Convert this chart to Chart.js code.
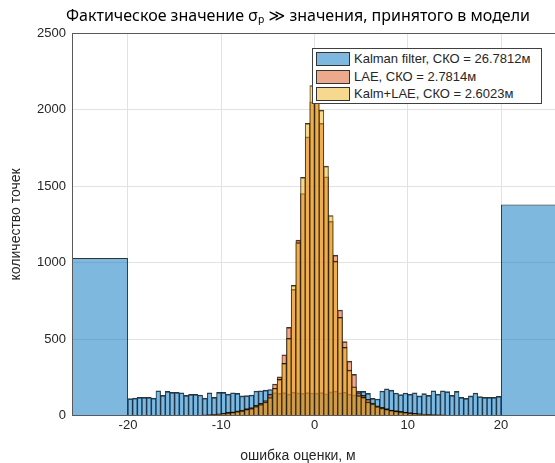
<!DOCTYPE html>
<html>
<head>
<meta charset="utf-8">
<script src="https://cdn.jsdelivr.net/npm/chart.js@4.4.1/dist/chart.umd.min.js"></script>
<style>
  html, body { margin: 0; padding: 0; background: #fff; overflow: hidden; }
  #wrap { position: relative; width: 555px; height: 463px; overflow: hidden; }
  #chart { position: absolute; left: 0; top: 0; }
  #legend {
    position: absolute; left: 312px; top: 48px; width: 230px; height: 56px;
    box-sizing: border-box; border: 1px solid #404040; background: #fff;
    font: 13px 'Liberation Sans', Arial, sans-serif; color: #262626;
  }
  .item { position: absolute; left: 3px; height: 14px; line-height: 14px; white-space: nowrap; }
  .swatch {
    display: inline-block; width: 34px; height: 14px; box-sizing: border-box;
    border: 1px solid #333; vertical-align: top; margin-right: 4px;
  }
</style>
</head>
<body>
<div id="wrap">
  <canvas id="chart" width="596" height="463"></canvas>
  <div id="legend"></div>
</div>
<script>

// 0.5 m bins from -20 to 20; the Kalman outliers fall into two wide bins
var binStart = -20;
var binWidth = 0.5;
var tailWidth = 6;
var tailCenters = [-23, 23];

var kalmanCounts = [
  110, 114, 119, 119, 119, 114, 162, 132, 158, 151, 151, 149, 132, 138, 138, 134, 114, 149, 119, 151,
  151, 140, 149, 145, 128, 130, 134, 160, 162, 166, 170, 150, 145, 150, 140, 152, 148, 145, 150, 147,
  146, 150, 142, 155, 160, 148, 152, 140, 135, 160, 158, 145, 112, 108, 160, 175, 166, 147, 136, 147,
  140, 149, 128, 143, 132, 162, 140, 162, 156, 132, 158, 119, 112, 128, 147, 123, 119, 119, 119, 125
];
var kalmanTails = [1030, 1380];

var laeCounts = [
  0, 0, 0, 0, 0, 0, 0, 0, 0, 0, 0, 0, 0, 1, 2, 3, 4, 6, 8, 11,
  16, 20, 24, 30, 35, 45, 52, 66, 80, 98, 140, 206, 253, 397, 576, 825, 1147, 1452, 1822, 2051,
  2090, 1910, 1561, 1269, 1049, 690, 483, 356, 269, 150, 132, 106, 82, 64, 53, 45, 36, 32, 27, 23,
  19, 15, 12, 10, 8, 6, 5, 4, 3, 2, 2, 1, 1, 0, 0, 0, 0, 0, 0, 0
];

var kalmLaeCounts = [
  0, 0, 0, 0, 0, 0, 0, 0, 0, 0, 0, 0, 0, 0, 1, 2, 3, 4, 6, 9,
  13, 17, 21, 26, 31, 40, 46, 59, 72, 88, 118, 178, 236, 341, 504, 851, 1130, 1557, 1910, 2158,
  2190, 1997, 1631, 1308, 1010, 642, 446, 297, 188, 130, 119, 88, 76, 58, 48, 40, 33, 28, 24, 20,
  16, 13, 10, 8, 6, 5, 4, 3, 2, 2, 1, 1, 0, 0, 0, 0, 0, 0, 0, 0
];

var seriesLabels = ['Kalman filter, СКО = 26.7812м', 'LAE, СКО = 2.7814м', 'Kalm+LAE, СКО = 2.6023м'];
var seriesColors = ['rgba(0,114,189,0.5)', 'rgba(217,83,25,0.5)', 'rgba(237,177,32,0.5)'];

var titleText = 'Фактическое значение σₚ ≫ значения, принятого в модели';
var xTitle = 'ошибка оценки, м';
var yTitle = 'количество точек';

var edgeColor = 'rgba(0,0,0,0.8)';
var boxColor = '#5a5a5a';
var gridColor = '#e2e2e2';
var textColor = '#262626';

function toPoints(counts) {
  return counts.map(function (c, i) {
    return { x: binStart + binWidth * (i + 0.5), y: c };
  });
}

Chart.defaults.font.family = "'Liberation Sans', Arial, sans-serif";
Chart.defaults.color = textColor;

var datasets = [
  {
    label: seriesLabels[0], data: toPoints(kalmanCounts), order: 3,
    backgroundColor: seriesColors[0], borderColor: edgeColor,
    borderWidth: { top: 1, left: 0.5, right: 0.5, bottom: 0 }
  },
  {
    label: seriesLabels[0], data: tailCenters.map(function (x, i) { return { x: x, y: kalmanTails[i] }; }),
    order: 3, barPercentage: tailWidth / binWidth,
    backgroundColor: seriesColors[0], borderColor: edgeColor, borderWidth: 1
  },
  {
    label: seriesLabels[1], data: toPoints(laeCounts), order: 2,
    backgroundColor: seriesColors[1], borderColor: edgeColor,
    borderWidth: { top: 1, left: 0.5, right: 0.5, bottom: 0 }
  },
  {
    label: seriesLabels[2], data: toPoints(kalmLaeCounts), order: 1,
    backgroundColor: seriesColors[2], borderColor: edgeColor,
    borderWidth: { top: 1, left: 0.5, right: 0.5, bottom: 0 }
  }
];

var chart = new Chart(document.getElementById('chart'), {
  type: 'bar',
  data: { datasets: datasets },
  options: {
    responsive: false,
    animation: false,
    datasets: { bar: { grouped: false, barPercentage: 1, categoryPercentage: 1 } },
    plugins: {
      legend: { display: false },
      tooltip: { enabled: false },
      title: {
        display: true, text: titleText, color: '#000',
        font: { family: "'Noto Sans', 'DejaVu Sans', sans-serif", size: 16, weight: 'normal' },
        padding: { top: 7, bottom: 7 }
      },
      subtitle: {
        display: true, position: 'bottom', text: xTitle, color: textColor,
        font: { size: 14 }, padding: { top: 0, bottom: -2 }
      }
    },
    scales: {
      x: {
        type: 'linear', min: -26, max: 26, offset: false,
        grid: { color: gridColor, offset: false, drawTicks: false },
        border: { color: boxColor, z: 1 },
        ticks: { stepSize: 10, includeBounds: false, padding: 2, font: { size: 13 } },
        afterFit: function (s) { s.height = 32.7; }
      },
      x2: {
        type: 'linear', position: 'top', min: -26, max: 26, offset: false,
        grid: { display: false, drawTicks: false },
        ticks: { display: false },
        border: { color: boxColor, z: 1 },
        afterFit: function (s) { s.height = 0; }
      },
      y: {
        min: 0, max: 2500,
        grid: { color: gridColor, drawTicks: false },
        border: { color: boxColor, z: 1 },
        ticks: { stepSize: 500, padding: 6, font: { size: 13 }, format: { useGrouping: false } },
        title: { display: true, text: yTitle, font: { size: 14 }, padding: { top: 8, bottom: 0 } },
        afterFit: function (s) { s.width = 72; }
      },
      y2: {
        position: 'right', min: 0, max: 2500,
        grid: { display: false, drawTicks: false },
        ticks: { display: false },
        border: { color: boxColor, z: 1 },
        afterFit: function (s) { s.width = 39; }
      }
    }
  }
});

// legend box inside the axes, as in the original figure
var legend = document.getElementById('legend');
seriesLabels.forEach(function (label, i) {
  var item = document.createElement('div');
  item.className = 'item';
  item.style.top = (3 + i * 17.6) + 'px';
  var sw = document.createElement('span');
  sw.className = 'swatch';
  sw.style.background = seriesColors[i];
  item.appendChild(sw);
  item.appendChild(document.createTextNode(label));
  legend.appendChild(item);
});

</script>
</body>
</html>
